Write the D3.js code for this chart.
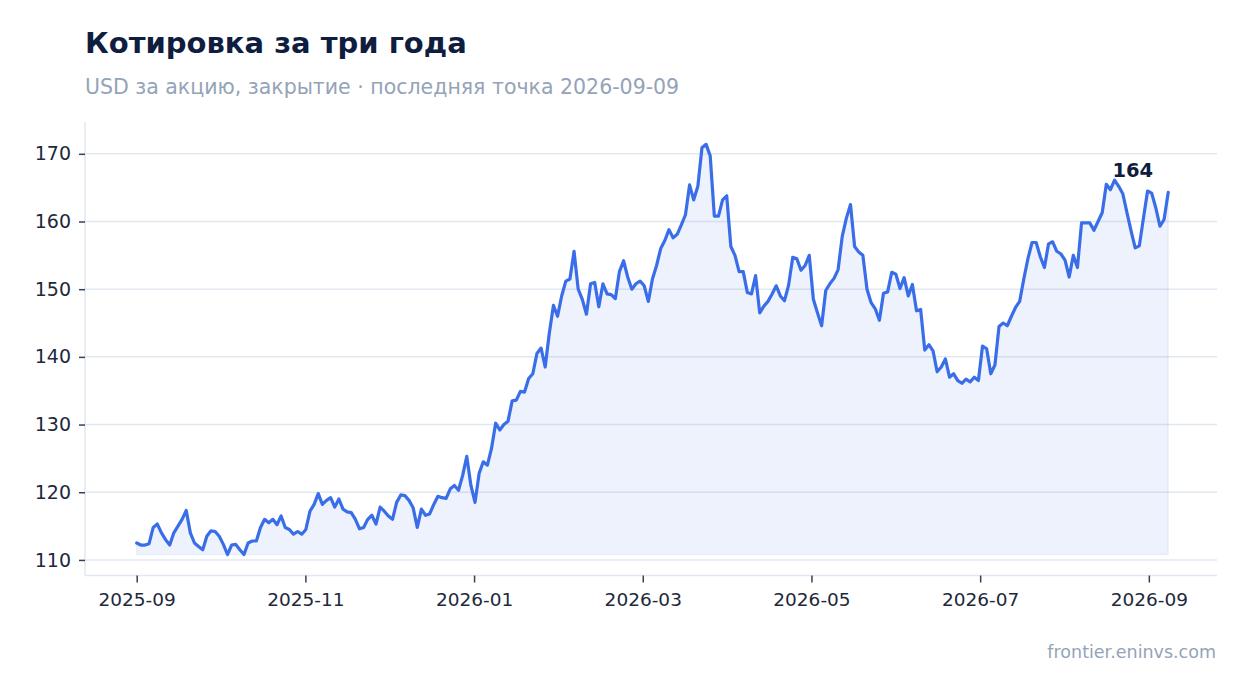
<!DOCTYPE html>
<html><head><meta charset="utf-8">
<script src="https://cdn.jsdelivr.net/npm/d3@7/dist/d3.min.js"></script>
<style>
html,body{margin:0;padding:0;background:#fff;}
svg{display:block;font-family:"DejaVu Sans",sans-serif;}
</style></head>
<body><svg id="chart" width="1247" height="693"></svg>
<script>
const titleText = "Котировка за три года";
const subtitleText = "USD за акцию, закрытие · последняя точка 2026-09-09";
const sourceText = "frontier.eninvs.com";
const firstDate = "2025-09-01";
const lastDate = "2026-09-09";
const yTickValues = [110, 120, 130, 140, 150, 160, 170];
const xTickLabels = ["2025-09", "2025-11", "2026-01", "2026-03", "2026-05", "2026-07", "2026-09"];
const closePrices = [
 112.5,112.2,112.2,112.4,114.8,115.3,114.0,113.0,112.2,114.0,115.0,116.0,117.3,114.0,112.5,112.0,111.5,113.5,114.3,114.2,113.5,112.3,110.8,
 112.2,112.3,111.5,110.8,112.5,112.8,112.8,114.8,116.0,115.5,116.0,115.2,116.5,114.8,114.5,113.8,114.2,113.8,114.5,
 117.2,118.2,119.8,118.2,118.8,119.2,117.8,119.0,117.5,117.1,117.0,116.0,114.6,114.8,116.0,116.6,115.3,117.8,117.2,116.5,116.0,118.5,119.6,
 119.5,118.8,117.7,114.8,117.5,116.6,116.8,118.2,119.4,119.2,119.1,120.5,121.0,120.3,122.5,125.3,121.0,118.5,122.8,124.5,124.0,126.5,130.2,129.2,130.0,
 130.5,133.5,133.6,134.9,134.8,136.8,137.5,140.5,141.3,138.5,143.5,147.6,146.0,149.0,151.2,151.5,155.6,150.0,148.5,146.3,150.8,151.0,147.4,150.8,
 149.3,149.2,148.6,152.6,154.2,151.8,150.0,150.8,151.2,150.5,148.2,151.5,153.5,156.0,157.2,158.8,157.6,158.1,159.5,161.0,165.4,163.2,165.2,170.9,
 171.4,169.7,160.8,160.8,163.2,163.8,156.3,155.0,152.6,152.6,149.5,149.3,152.0,146.5,147.5,148.2,149.3,150.5,149.0,148.3,150.6,154.7,154.5,152.8,153.5,
 155.0,148.5,146.5,144.6,149.8,150.8,151.6,152.9,157.8,160.5,162.5,156.3,155.5,155.0,150.0,148.0,147.1,145.4,149.4,149.6,152.5,152.2,150.1,151.7,
 149.0,150.7,146.8,147.0,141.0,141.8,140.9,137.8,138.5,139.7,137.0,137.5,136.5,136.1,136.7,136.3,137.0,136.5,141.6,141.2,137.5,138.8,144.5,145.0,144.6,
 146.0,147.3,148.2,151.5,154.5,156.9,156.9,154.8,153.2,156.7,157.0,155.6,155.2,154.3,151.8,155.0,153.2,159.8,159.8,159.8,158.7,160.0,161.3,
 165.5,164.7,166.1,165.2,164.1,161.3,158.6,156.1,156.4,160.5,164.5,164.2,162.0,159.3,160.3,164.3
];

const parse = d3.utcParse("%Y-%m-%d");
const t0 = parse(firstDate), t1 = parse(lastDate);
const n = closePrices.length;
const data = closePrices.map((v, i) => ({
  date: new Date(t0.getTime() + (t1 - t0) * i / (n - 1)),
  value: v
}));
const tickDates = xTickLabels.map((lab, j) => d3.utcDay.offset(t0, 61 * j));

const svg = d3.select("#chart");
const plot = {left: 85, right: 1217, top: 122, bottom: 575.5};

const x = d3.scaleUtc().domain([t0, t1]).range([136.7, 1168.2]);
const y = d3.scaleLinear().domain([107.7, 174.7]).range([plot.bottom, plot.top]);

// gridlines
svg.append("g").selectAll("line").data(yTickValues).join("line")
  .attr("x1", plot.left).attr("x2", plot.right)
  .attr("y1", d => y(d)).attr("y2", d => y(d))
  .attr("stroke", "#e2e8f0").attr("stroke-width", 1.5);

// axis frame lines
svg.append("line").attr("x1", plot.left).attr("x2", plot.left)
  .attr("y1", plot.top).attr("y2", plot.bottom)
  .attr("stroke", "#e2e8f0").attr("stroke-width", 1.5);
svg.append("line").attr("x1", plot.left).attr("x2", plot.right)
  .attr("y1", plot.bottom).attr("y2", plot.bottom)
  .attr("stroke", "#e2e8f0").attr("stroke-width", 1.5);

// area + line
const minV = d3.min(closePrices);
const area = d3.area().x(d => x(d.date)).y0(y(minV)).y1(d => y(d.value));
svg.append("path").datum(data).attr("d", area)
  .attr("fill", "#3a6ee8").attr("fill-opacity", 0.09)
  .attr("stroke", "#3a6ee8").attr("stroke-opacity", 0.08).attr("stroke-width", 1.5);
const line = d3.line().x(d => x(d.date)).y(d => y(d.value));
svg.append("path").datum(data).attr("d", line)
  .attr("fill", "none").attr("stroke", "#3a6ee8").attr("stroke-width", 3.2)
  .attr("stroke-linejoin", "round").attr("stroke-linecap", "round");

// y axis
const yAxis = svg.append("g").attr("transform", `translate(${plot.left},0)`)
  .call(d3.axisLeft(y).tickValues(yTickValues).tickSize(6).tickPadding(8));
yAxis.select(".domain").remove();
yAxis.selectAll(".tick line").attr("stroke", "#334155").attr("stroke-width", 1.5);
yAxis.selectAll(".tick text").attr("fill", "#1e293b").style("font-size", "19px")
  .style("font-family", "DejaVu Sans");

// x axis
const xAxis = svg.append("g").attr("transform", `translate(0,${plot.bottom})`)
  .call(d3.axisBottom(x).tickValues(tickDates).tickFormat((d, i) => xTickLabels[i]).tickSize(7).tickPadding(10));
xAxis.select(".domain").remove();
xAxis.selectAll(".tick line").attr("stroke", "#334155").attr("stroke-width", 1.5);
xAxis.selectAll(".tick text").attr("fill", "#1e293b").style("font-size", "18.5px")
  .style("font-family", "DejaVu Sans");

// last value label
const last = data[n - 1];
svg.append("text").attr("x", x(last.date) - 15).attr("y", y(last.value) - 15)
  .attr("text-anchor", "end").attr("fill", "#0f1d3f")
  .style("font-size", "19.5px").style("font-weight", "bold")
  .text(d3.format(".0f")(last.value));

// titles
svg.append("text").attr("x", 85).attr("y", 53).attr("fill", "#0f1d3f")
  .style("font-size", "29px").style("font-weight", "bold").text(titleText);
svg.append("text").attr("x", 85).attr("y", 94).attr("fill", "#94a3b8")
  .style("font-size", "20.5px").text(subtitleText);
svg.append("text").attr("x", 1216).attr("y", 658).attr("text-anchor", "end")
  .attr("fill", "#94a3b8").style("font-size", "17.5px").text(sourceText);
</script></body></html>
